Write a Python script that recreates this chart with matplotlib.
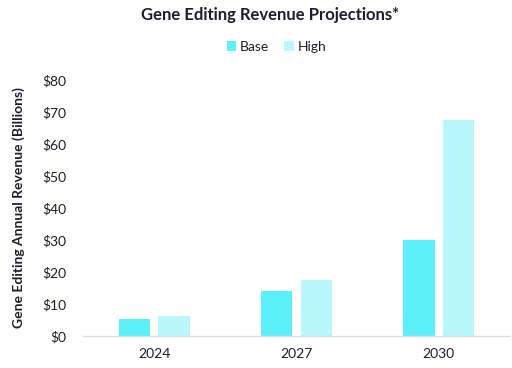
import numpy as np
from matplotlib import pyplot as plt

years = ['2024', '2027', '2030']
base = [5.2, 14.0, 30.0]
high = [6.2, 17.5, 67.4]
y_ticks = [0, 10, 20, 30, 40, 50, 60, 70, 80]

text_color = '#1c1d33'
base_color = '#5cf0fa'
high_color = '#b8f7fc'

plt.rcParams['font.family'] = ['Lato', 'DejaVu Sans']

fig = plt.figure(figsize=(5.12, 3.68), dpi=100)
ax = fig.add_axes([0.162, 0.087, 0.834, 0.696])

x = np.arange(len(years))
width = 0.22
ax.bar(x - 0.14, base, width, color=base_color, label='Base')
ax.bar(x + 0.14, high, width, color=high_color, label='High')

ax.set_xlim(-0.5, 2.5)
ax.set_ylim(0, 80)
ax.set_xticks(x)
ax.set_xticklabels(years)
ax.set_yticks(y_ticks)
ax.set_yticklabels(['$' + str(v) for v in y_ticks])
ax.tick_params(length=0, labelsize=10, colors=text_color)
ax.tick_params(axis='x', pad=9)
ax.tick_params(axis='y', pad=12)

for side in ['top', 'right', 'left']:
    ax.spines[side].set_visible(False)
ax.spines['bottom'].set_color('#dcdce6')
ax.spines['bottom'].set_linewidth(1)

ax.set_ylabel('Gene Editing Annual Revenue (Billions)', fontsize=10,
              fontweight='bold', color=text_color, labelpad=12)

fig.text(0.527, 0.96, 'Gene Editing Revenue Projections*', ha='center', va='center',
         fontsize=12, fontweight='bold', color=text_color)
fig.legend(loc='center', bbox_to_anchor=(0.54, 0.873), ncol=2, frameon=False,
           fontsize=10, handlelength=0.7, handleheight=0.7, columnspacing=1.1,
           handletextpad=0.25, labelcolor=text_color)

fig.savefig('out.png', dpi=100)
